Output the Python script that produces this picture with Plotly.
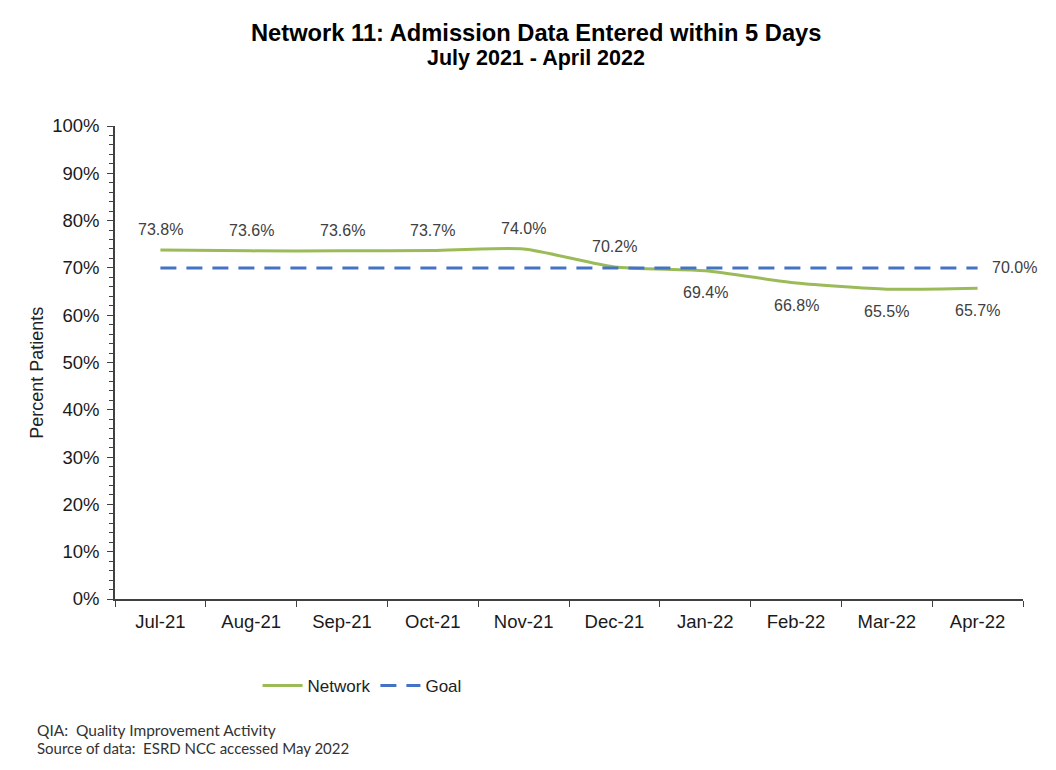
import plotly.graph_objects as go

months = ["Jul-21", "Aug-21", "Sep-21", "Oct-21", "Nov-21", "Dec-21", "Jan-22", "Feb-22", "Mar-22", "Apr-22"]
network = [73.8, 73.6, 73.6, 73.7, 74.0, 70.2, 69.4, 66.8, 65.5, 65.7]
goal = [70.0] * 10
label_above = [True, True, True, True, True, True, False, False, False, False]

FONT = "Liberation Sans, Arial"

fig = go.Figure()
fig.add_trace(go.Scatter(x=months, y=network, mode="lines", name="Network",
                         line=dict(color="#9BBB59", width=3, shape="spline", smoothing=0.6)))
fig.add_trace(go.Scatter(x=months, y=goal, mode="lines", name="Goal",
                         line=dict(color="#4472C4", width=3, dash="16px,10px")))

for m, v, up in zip(months, network, label_above):
    fig.add_annotation(x=m, y=v, text=f"{v:.1f}%", showarrow=False,
                       yshift=20 if up else -22,
                       font=dict(family=FONT, size=16, color="#404040"))
fig.add_annotation(x=months[-1], y=goal[-1], text=f"{goal[-1]:.1f}%", showarrow=False,
                   xanchor="left", xshift=12,
                   font=dict(family=FONT, size=16, color="#404040"))

# titles
fig.add_annotation(xref="paper", yref="paper", x=0.4637, y=1.197, xanchor="center", yanchor="middle",
                   text="<b>Network 11: Admission Data Entered within 5 Days</b>", showarrow=False,
                   font=dict(family=FONT, size=23.7, color="black"))
fig.add_annotation(xref="paper", yref="paper", x=0.4637, y=1.144, xanchor="center", yanchor="middle",
                   text="<b>July 2021 - April 2022</b>", showarrow=False,
                   font=dict(family=FONT, size=21.5, color="black"))

# y-axis title
fig.add_annotation(xref="paper", yref="paper", x=-0.086, y=0.478, xanchor="center", yanchor="middle",
                   text="Percent Patients", textangle=-90, showarrow=False,
                   font=dict(family=FONT, size=18, color="#222222"))

# footnotes
fig.add_annotation(xref="paper", yref="paper", x=-0.088, y=-0.277, xanchor="left", yanchor="middle",
                   text="QIA:  Quality Improvement Activity", showarrow=False,
                   font=dict(family="Lato, Open Sans", size=15.5, color="#333333"))
fig.add_annotation(xref="paper", yref="paper", x=-0.088, y=-0.315, xanchor="left", yanchor="middle",
                   text="Source of data:  ESRD NCC accessed May 2022", showarrow=False,
                   font=dict(family="Lato, Open Sans", size=15, color="#333333"))

fig.update_layout(
    width=1040, height=754,
    paper_bgcolor="white", plot_bgcolor="white",
    margin=dict(l=107, r=25, t=118, b=163),
    font=dict(family=FONT, size=17, color="#222222"),
    showlegend=True,
    legend=dict(orientation="h", x=0.157, y=-0.184, xanchor="left", yanchor="middle",
                font=dict(family=FONT, size=17, color="#222222"), itemwidth=40, tracegroupgap=0),
    xaxis=dict(showline=True, linecolor="#404040", linewidth=1.5, ticks="outside",
               tickson="boundaries", ticklen=6, tickcolor="#404040", showgrid=False,
               ticklabelstandoff=5,
               tickfont=dict(family=FONT, size=18.5, color="#1a1a1a"), range=[-0.5, 9.5]),
    yaxis=dict(range=[0, 100], dtick=10, ticksuffix="%", showline=True, linecolor="#404040",
               linewidth=1.5, ticks="outside", ticklen=6, tickcolor="#404040", showgrid=False,
               ticklabelstandoff=4,
               zeroline=False, tickfont=dict(family=FONT, size=18.5, color="#1a1a1a"),
               minor=dict(dtick=2, ticks="outside", ticklen=4, tickcolor="#404040", showgrid=False)),
)

fig.write_html("out.html")
